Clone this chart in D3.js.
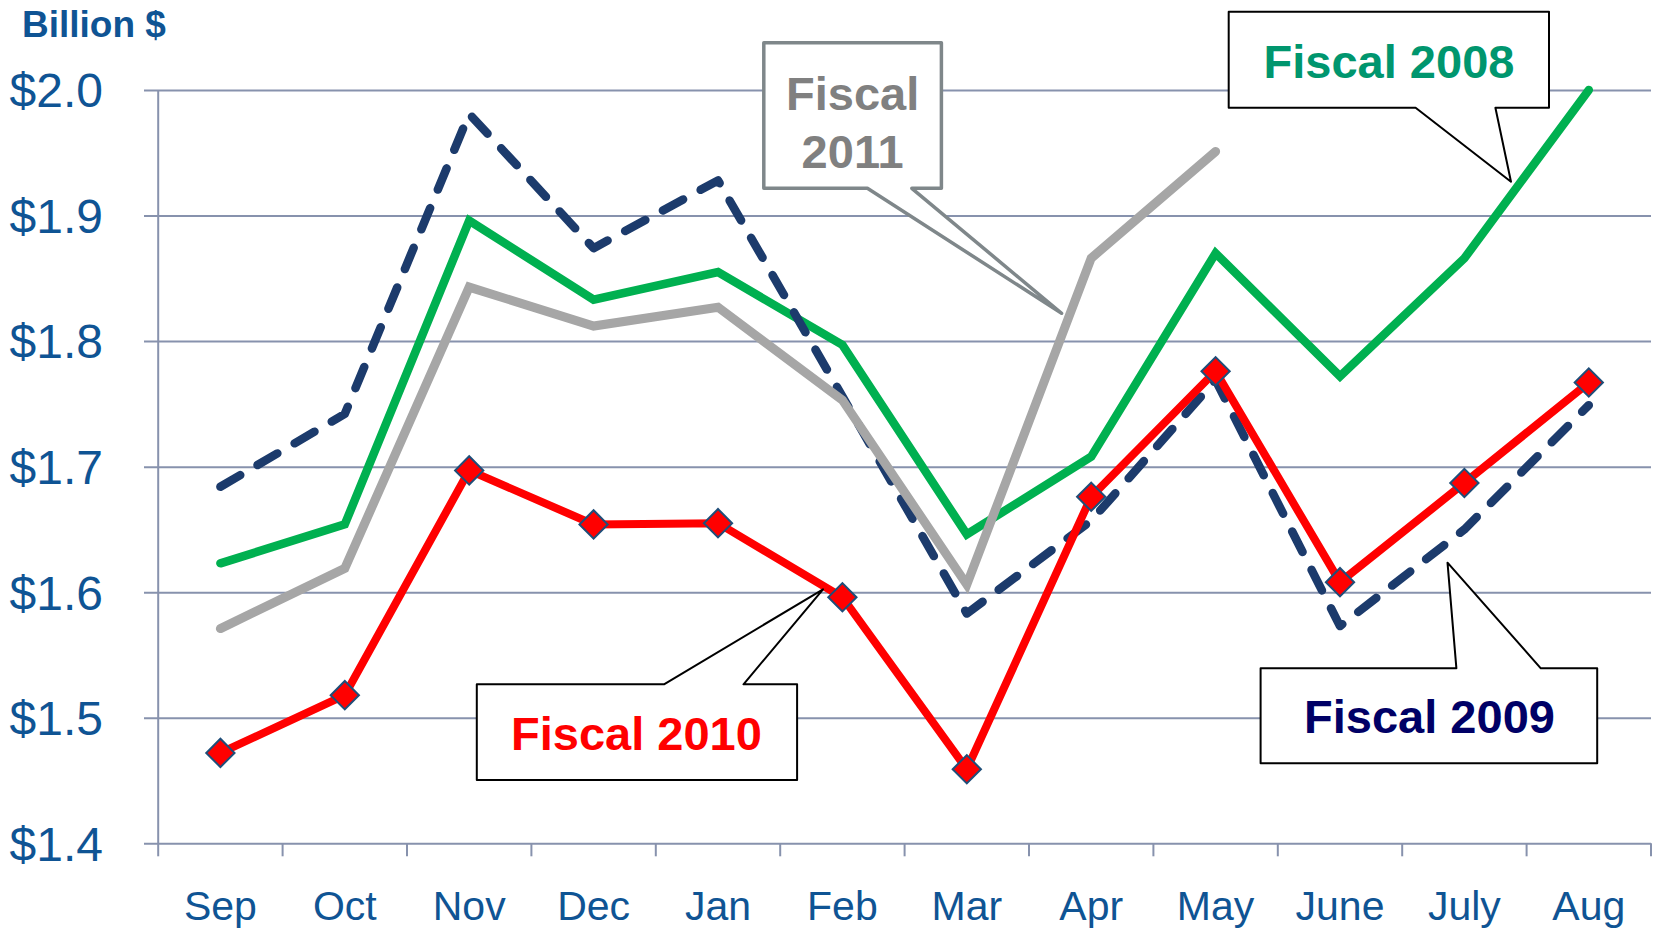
<!DOCTYPE html>
<html>
<head>
<meta charset="utf-8">
<script src="https://cdn.jsdelivr.net/npm/d3@7"></script>
<style>
  html, body { margin: 0; padding: 0; background: #ffffff; }
  svg { display: block; }
  text { font-family: Arial, "Liberation Sans", sans-serif; }
</style>
</head>
<body>
<svg id="chart" width="1656" height="929"></svg>
<script>
// ---- data ----
const months = ["Sep", "Oct", "Nov", "Dec", "Jan", "Feb", "Mar", "Apr", "May", "June", "July", "Aug"];
const yTicks = [1.4, 1.5, 1.6, 1.7, 1.8, 1.9, 2.0];
const fiscal2008 = [1.623, 1.654, 1.896, 1.833, 1.855, 1.797, 1.646, 1.708, 1.870, 1.772, 1.866, 2.000];
const fiscal2009 = [1.684, 1.742, 1.981, 1.874, 1.928, 1.756, 1.583, 1.657, 1.769, 1.573, 1.650, 1.749];
const fiscal2010 = [1.472, 1.518, 1.697, 1.654, 1.655, 1.596, 1.459, 1.676, 1.776, 1.608, 1.687, 1.767];
const fiscal2011 = [1.571, 1.619, 1.843, 1.812, 1.827, 1.753, 1.606, 1.866, 1.951];

const svg = d3.select("#chart");
const plotLeft = 158.2, plotRight = 1651, plotTop = 90, plotBottom = 843.3;

const x = d3.scaleBand().domain(months).range([plotLeft, plotRight]).padding(0);
const y = d3.scaleLinear().domain([1.4, 2.0]).range([plotBottom, plotTop]);
const cx = m => x(m) + x.bandwidth() / 2;

const axisColor = "#8792ad";
const labelColor = "#0f5494";

// gridlines + y labels via axisLeft
const yAxis = d3.axisLeft(y).tickValues(yTicks).tickSize(-(plotRight - 144)).tickFormat(d => "$" + d3.format(".1f")(d));
const gy = svg.append("g").attr("transform", `translate(144,0)`).call(yAxis);
gy.select(".domain").remove();
gy.selectAll(".tick line").attr("stroke", axisColor).attr("stroke-width", 2);
gy.selectAll(".tick text")
  .attr("x", -41).attr("dy", "0.35em")
  .attr("fill", labelColor).attr("font-size", 48)
  .attr("text-anchor", "end");

// y axis vertical line
svg.append("line").attr("x1", plotLeft).attr("x2", plotLeft).attr("y1", y(2.0)).attr("y2", y(1.4))
  .attr("stroke", axisColor).attr("stroke-width", 2);

// x axis boundary ticks
const edges = months.map(m => x(m)).concat([x(months[months.length - 1]) + x.bandwidth()]);
svg.append("g").selectAll("line").data(edges).join("line")
  .attr("x1", d => d).attr("x2", d => d)
  .attr("y1", y(1.4)).attr("y2", y(1.4) + 13)
  .attr("stroke", axisColor).attr("stroke-width", 2);

// x labels via axisBottom
const xAxis = d3.axisBottom(x).tickSize(0).tickPadding(0);
const gx = svg.append("g").attr("transform", `translate(0,${y(1.4)})`).call(xAxis);
gx.select(".domain").remove();
gx.selectAll(".tick text").attr("y", 77).attr("dy", 0)
  .attr("fill", labelColor).attr("font-size", 41);

// title
svg.append("text").attr("x", 22).attr("y", 37).attr("fill", labelColor)
  .attr("font-size", 37).attr("font-weight", "bold").text("Billion $");

// lines
const line = d3.line().x((d, i) => cx(months[i])).y(d => y(d));

svg.append("path").datum(fiscal2008).attr("d", line)
  .attr("fill", "none").attr("stroke", "#00b050").attr("stroke-width", 8.5)
  .attr("stroke-linejoin", "miter").attr("stroke-linecap", "round");

svg.append("path").datum(fiscal2009).attr("d", line)
  .attr("fill", "none").attr("stroke", "#1c3b6c").attr("stroke-width", 8.5)
  .attr("stroke-dasharray", "23,20").attr("stroke-linecap", "round").attr("stroke-linejoin", "round");

svg.append("path").datum(fiscal2011).attr("d", line)
  .attr("fill", "none").attr("stroke", "#a6a6a6").attr("stroke-width", 9)
  .attr("stroke-linejoin", "miter").attr("stroke-linecap", "round");

svg.append("path").datum(fiscal2010).attr("d", line)
  .attr("fill", "none").attr("stroke", "#ff0000").attr("stroke-width", 8)
  .attr("stroke-linejoin", "miter");

// diamonds
const diamond = d3.symbol().type(d3.symbolSquare).size(400);
svg.append("g").selectAll("path").data(fiscal2010).join("path")
  .attr("d", diamond)
  .attr("transform", (d, i) => `translate(${cx(months[i])},${y(d)}) rotate(45)`)
  .attr("fill", "#ff0000").attr("stroke", "#1f4e79").attr("stroke-width", 2);

// callouts
const callouts = [
  { path: "M1228.7,11.7 H1549 V107.7 H1495.4 L1511,181.7 L1415.6,107.7 H1228.7 Z",
    stroke: "#000000", sw: 2, color: "#00966e", lines: ["Fiscal 2008"], tx: 1389, ty: [78.3] },
  { path: "M763.8,42.7 H941.4 V188.3 H911.8 L1061.6,313.3 L867.4,188.3 H763.8 Z",
    stroke: "#7f878a", sw: 3.5, color: "#808080", lines: ["Fiscal", "2011"], tx: 852.6, ty: [110, 168.3] },
  { path: "M476.8,684.3 H664 L823,589.3 L743.5,684.3 H797.1 V780 H476.8 Z",
    stroke: "#000000", sw: 2, color: "#ff0000", lines: ["Fiscal 2010"], tx: 636.4, ty: [750] },
  { path: "M1260.6,668.3 H1456.4 L1447.5,562.7 L1540.8,668.3 H1597.2 V763.3 H1260.6 Z",
    stroke: "#000000", sw: 2, color: "#000066", lines: ["Fiscal 2009"], tx: 1429.5, ty: [733.3] }
];
callouts.forEach(c => {
  const g = svg.append("g");
  g.append("path").attr("d", c.path).attr("fill", "#ffffff")
    .attr("stroke", c.stroke).attr("stroke-width", c.sw).attr("stroke-linejoin", "round");
  c.lines.forEach((t, i) => {
    g.append("text").attr("x", c.tx).attr("y", c.ty[i]).attr("text-anchor", "middle")
      .attr("font-size", 47).attr("font-weight", "bold").attr("fill", c.color).text(t);
  });
});
</script>
</body>
</html>
